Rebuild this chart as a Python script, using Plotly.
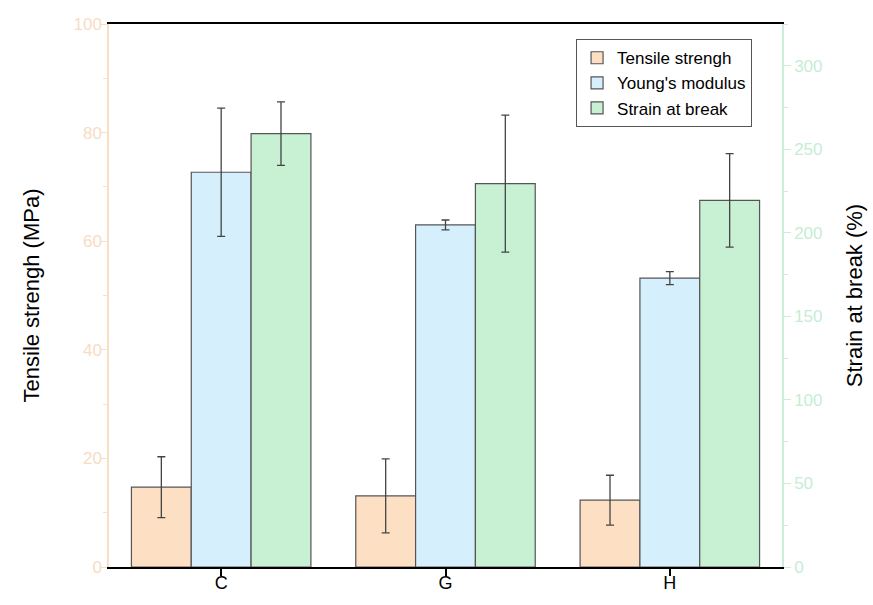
import plotly.graph_objects as go

# Samples
categories = ["C", "G", "H"]

# Tensile strength (MPa) and its standard deviation
tensile = [14.7, 13.1, 12.3]
tensile_err = [5.6, 6.8, 4.6]

# Young's modulus (plotted against the left scale)
young = [72.7, 63.0, 53.2]
young_err = [11.8, 0.9, 1.2]

# Strain at break (%) and its standard deviation
strain = [259.4, 229.5, 219.4]
strain_err = [19.0, 41.0, 28.0]

left_ticks = [0, 20, 40, 60, 80, 100]
right_ticks = [0, 50, 100, 150, 200, 250, 300]

PEACH = "#FDDFC4"
BLUE = "#D6EFFC"
GREEN = "#C8F1D4"
EDGE = "#555555"
ERR = "#444444"
AXIS_PEACH = "#F9DEC3"
AXIS_GREEN = "#C9EFD8"
FONT = "Liberation Sans, Arial, sans-serif"


def err(vals):
    return dict(type="data", array=vals, visible=True, color=ERR,
                thickness=1.3, width=4)


fig = go.Figure()
fig.add_trace(go.Bar(
    x=categories, y=tensile, name="Tensile strengh", offsetgroup="1",
    marker=dict(color=PEACH, line=dict(color=EDGE, width=1.2)),
    error_y=err(tensile_err), yaxis="y"))
fig.add_trace(go.Bar(
    x=categories, y=young, name="Young's modulus", offsetgroup="2",
    marker=dict(color=BLUE, line=dict(color=EDGE, width=1.2)),
    error_y=err(young_err), yaxis="y"))
fig.add_trace(go.Bar(
    x=categories, y=strain, name="Strain at break", offsetgroup="3",
    marker=dict(color=GREEN, line=dict(color=EDGE, width=1.2)),
    error_y=err(strain_err), yaxis="y2"))

fig.update_layout(
    width=873, height=605,
    margin=dict(l=109, r=91, t=24, b=38, autoexpand=False),
    paper_bgcolor="white", plot_bgcolor="white",
    font=dict(family=FONT, color="black"),
    barmode="group", bargap=0.2, bargroupgap=0,
    showlegend=True,
    legend=dict(
        x=0.694, y=0.972, xanchor="left", yanchor="top",
        bgcolor="white", bordercolor="#555555", borderwidth=1,
        font=dict(size=17, family=FONT, color="black"),
        itemwidth=30, tracegroupgap=0,
    ),
    xaxis=dict(
        range=[-0.5, 2.5], showline=True, linecolor="black", linewidth=2,
        mirror=True, ticks="outside", ticklen=7, tickwidth=2, tickcolor="black",
        tickfont=dict(size=18, color="black"), showgrid=False, zeroline=False,
        ticklabelstandoff=-9, automargin=False,
    ),
    yaxis=dict(
        range=[0, 100], tickvals=left_ticks, showline=True, linecolor=AXIS_PEACH,
        linewidth=1.5, ticks="outside", ticklen=7, tickcolor=AXIS_PEACH,
        tickfont=dict(size=17, color="#F7DCC4"), showgrid=False, zeroline=False,
        minor=dict(dtick=10, ticks="outside", ticklen=4, tickcolor=AXIS_PEACH),
        ticklabelstandoff=-5,
        title=dict(text="Tensile strengh (MPa)", font=dict(size=22, color="black"),
                   standoff=28),
        automargin=False,
    ),
    yaxis2=dict(
        range=[0, 325], tickvals=right_ticks, overlaying="y", side="right",
        showline=True, linecolor=AXIS_GREEN, linewidth=1.5, ticks="outside",
        ticklen=7, tickcolor=AXIS_GREEN, tickfont=dict(size=17, color="#C5EDD4"),
        showgrid=False, zeroline=False,
        minor=dict(dtick=25, ticks="outside", ticklen=4, tickcolor=AXIS_GREEN),
        title=dict(text="Strain at break (%)", font=dict(size=22, color="black"),
                   standoff=25),
        automargin=False,
    ),
)

fig.write_html("out.html")
